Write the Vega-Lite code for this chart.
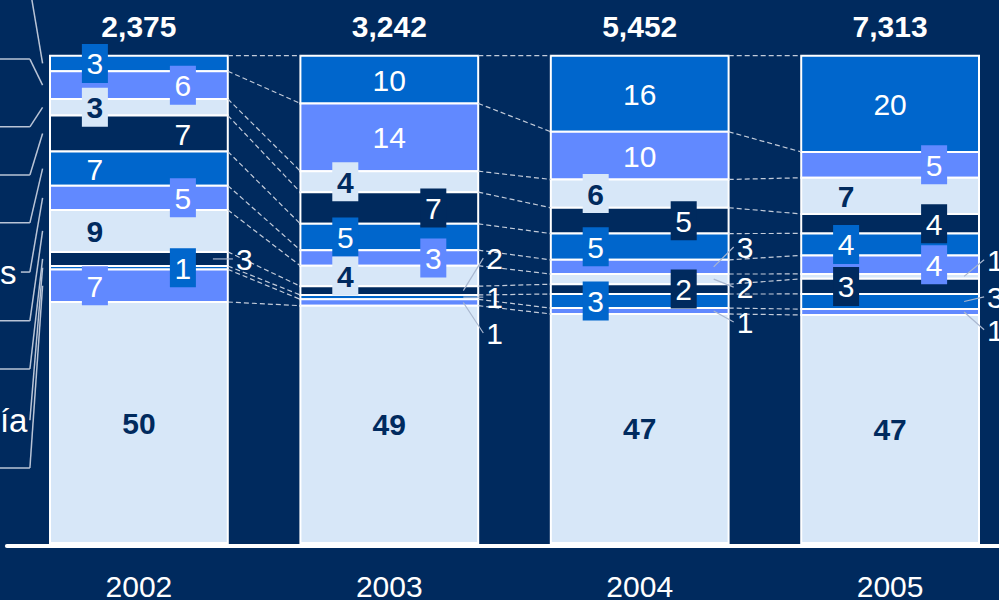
{
  "$schema": "https://vega.github.io/schema/vega-lite/v6.json",
  "width": 999,
  "height": 600,
  "autosize": "none",
  "padding": 0,
  "background": "#002A5E",
  "config": {"view": {"stroke": null}, "text": {"font": "Liberation Sans"}},
  "data": {"values": [
    {"year": "2002", "seg": 1, "pct": 3.2, "label": "3", "pos": "L", "legY": 1.139},
    {"year": "2002", "seg": 2, "pct": 5.7, "label": "6", "pos": "R", "legY": 0.993},
    {"year": "2002", "seg": 3, "pct": 3.4, "label": "3", "pos": "L", "legY": 0.854},
    {"year": "2002", "seg": 4, "pct": 7.4, "label": "7", "pos": "R", "legY": 0.755},
    {"year": "2002", "seg": 5, "pct": 7.0, "label": "7", "pos": "L", "legY": 0.657},
    {"year": "2002", "seg": 6, "pct": 5.0, "label": "5", "pos": "R", "legY": 0.556, "legName": "s"},
    {"year": "2002", "seg": 7, "pct": 8.6, "label": "9", "pos": "L", "legY": 0.456},
    {"year": "2002", "seg": 8, "pct": 2.9, "label": "3", "pos": "O", "off": 0, "legY": 0.357},
    {"year": "2002", "seg": 9, "pct": 0.7, "label": "1", "pos": "R", "legY": 0.252, "legName": "ía"},
    {"year": "2002", "seg": 10, "pct": 6.7, "label": "7", "pos": "L", "legY": 0.154},
    {"year": "2002", "seg": 11, "pct": 49.5, "label": "50", "pos": "C"},
    {"year": "2003", "seg": 1, "pct": 9.8, "label": "10", "pos": "C"},
    {"year": "2003", "seg": 2, "pct": 13.9, "label": "14", "pos": "C"},
    {"year": "2003", "seg": 3, "pct": 4.3, "label": "4", "pos": "L"},
    {"year": "2003", "seg": 4, "pct": 6.5, "label": "7", "pos": "R"},
    {"year": "2003", "seg": 5, "pct": 5.4, "label": "5", "pos": "L"},
    {"year": "2003", "seg": 6, "pct": 3.2, "label": "3", "pos": "R"},
    {"year": "2003", "seg": 7, "pct": 4.2, "label": "4", "pos": "L"},
    {"year": "2003", "seg": 8, "pct": 1.8, "label": "2", "pos": "O", "off": 0.0667},
    {"year": "2003", "seg": 9, "pct": 0.9, "label": "1", "pos": "O", "off": 0},
    {"year": "2003", "seg": 10, "pct": 1.3, "label": "1", "pos": "O", "off": -0.0626},
    {"year": "2003", "seg": 11, "pct": 48.7, "label": "49", "pos": "C"},
    {"year": "2004", "seg": 1, "pct": 15.6, "label": "16", "pos": "C"},
    {"year": "2004", "seg": 2, "pct": 9.8, "label": "10", "pos": "C"},
    {"year": "2004", "seg": 3, "pct": 5.8, "label": "6", "pos": "L"},
    {"year": "2004", "seg": 4, "pct": 5.3, "label": "5", "pos": "R"},
    {"year": "2004", "seg": 5, "pct": 5.4, "label": "5", "pos": "L"},
    {"year": "2004", "seg": 6, "pct": 2.9, "label": "3", "pos": "O", "off": 0.041},
    {"year": "2004", "seg": 7, "pct": 2.1, "label": "2", "pos": "O", "off": -0.0164},
    {"year": "2004", "seg": 8, "pct": 2.0, "label": "2", "pos": "R"},
    {"year": "2004", "seg": 9, "pct": 2.9, "label": "3", "pos": "L"},
    {"year": "2004", "seg": 10, "pct": 1.2, "label": "1", "pos": "O", "off": -0.0226},
    {"year": "2004", "seg": 11, "pct": 47.0, "label": "47", "pos": "C"},
    {"year": "2005", "seg": 1, "pct": 19.7, "label": "20", "pos": "C"},
    {"year": "2005", "seg": 2, "pct": 5.3, "label": "5", "pos": "R"},
    {"year": "2005", "seg": 3, "pct": 7.4, "label": "7", "pos": "L"},
    {"year": "2005", "seg": 4, "pct": 4.0, "label": "4", "pos": "R"},
    {"year": "2005", "seg": 5, "pct": 4.5, "label": "4", "pos": "L"},
    {"year": "2005", "seg": 6, "pct": 3.8, "label": "4", "pos": "R"},
    {"year": "2005", "seg": 7, "pct": 1.0, "label": "1", "pos": "O", "off": 0.034},
    {"year": "2005", "seg": 8, "pct": 3.1, "label": "3", "pos": "L"},
    {"year": "2005", "seg": 9, "pct": 3.1, "label": "3", "pos": "O", "off": 0.0096},
    {"year": "2005", "seg": 10, "pct": 1.2, "label": "1", "pos": "O", "off": -0.0363},
    {"year": "2005", "seg": 11, "pct": 46.7, "label": "47", "pos": "C"}
  ]},
  "transform": [
    {"stack": "pct", "groupby": ["year"], "sort": [{"field": "seg", "order": "descending"}], "offset": "normalize", "as": ["y0", "y1"]},
    {"calculate": "(datum.y0 + datum.y1) / 2", "as": "mid"},
    {"calculate": "datum.mid + (datum.off || 0)", "as": "ly"}
  ],
  "layer": [
    {
      "mark": {"type": "bar", "stroke": "white", "strokeWidth": 2},
      "encoding": {
        "x": {"field": "year", "type": "ordinal", "scale": {"range": [50, 979], "paddingInner": 0.29, "paddingOuter": 0},
              "axis": {"title": null, "domain": false, "ticks": false, "labelAngle": 0, "labelFontSize": 30, "labelColor": "white", "labelFont": "Liberation Sans", "offset": -30, "labelPadding": 2}},
        "y": {"field": "y1", "type": "quantitative", "scale": {"domain": [-0.117, 1.1143], "nice": false, "zero": false}, "axis": null},
        "y2": {"field": "y0"},
        "color": {"field": "seg", "type": "nominal", "legend": null,
                  "scale": {"domain": [1,2,3,4,5,6,7,8,9,10,11],
                            "range": ["#0066CC","#6189FF","#D7E7F8","#002A5E","#0066CC","#6189FF","#D7E7F8","#002A5E","#0066CC","#6189FF","#D7E7F8"]}}
      }
    },
    {
      "transform": [
        {"window": [{"op": "lead", "field": "y1", "as": "ny"}, {"op": "lead", "field": "year", "as": "nyear"}], "groupby": ["seg"], "sort": [{"field": "year", "order": "ascending"}]},
        {"filter": "datum.nyear != null"}
      ],
      "mark": {"type": "rule", "color": "#C3CCDA", "strokeWidth": 1.2, "strokeDash": [5, 3], "xOffset": 89, "x2Offset": -89},
      "encoding": {
        "x": {"field": "year", "type": "ordinal"},
        "x2": {"field": "nyear"},
        "y": {"field": "y1", "type": "quantitative"},
        "y2": {"field": "ny"}
      }
    },
    {
      "transform": [{"filter": "datum.year == '2002' && isValid(datum.legY)"}],
      "mark": {"type": "rule", "color": "#B9C4D6", "strokeWidth": 1.5, "xOffset": -109, "x2Offset": -96.3},
      "encoding": {
        "x": {"field": "year", "type": "ordinal"},
        "x2": {"field": "year"},
        "y": {"field": "legY", "type": "quantitative"},
        "y2": {"field": "mid"}
      }
    },
    {
      "transform": [{"filter": "datum.year == '2002' && isValid(datum.legY) && !isValid(datum.legName)"}],
      "mark": {"type": "rule", "color": "#B9C4D6", "strokeWidth": 1.5, "xOffset": -200, "x2Offset": -109},
      "encoding": {
        "x": {"field": "year", "type": "ordinal"},
        "x2": {"field": "year"},
        "y": {"field": "legY", "type": "quantitative"}
      }
    },
    {
      "transform": [{"filter": "datum.year == '2002' && datum.legName == 's'"}],
      "mark": {"type": "rule", "color": "#B9C4D6", "strokeWidth": 1.5, "xOffset": -118, "x2Offset": -109},
      "encoding": {
        "x": {"field": "year", "type": "ordinal"},
        "x2": {"field": "year"},
        "y": {"field": "legY", "type": "quantitative"}
      }
    },
    {
      "transform": [{"filter": "datum.year == '2002' && isValid(datum.legName)"}],
      "mark": {"type": "text", "color": "white", "fontSize": 33, "align": "left", "baseline": "middle", "xOffset": -139, "dy": 2},
      "encoding": {
        "x": {"field": "year", "type": "ordinal"},
        "y": {"field": "legY", "type": "quantitative"},
        "text": {"field": "legName"}
      }
    },
    {
      "transform": [{"filter": "datum.pos == 'O'"}],
      "mark": {"type": "rule", "color": "#A9B7CF", "strokeWidth": 1.2, "xOffset": 74, "x2Offset": 94},
      "encoding": {
        "x": {"field": "year", "type": "ordinal"},
        "x2": {"field": "year"},
        "y": {"field": "mid", "type": "quantitative"},
        "y2": {"field": "ly"}
      }
    },
    {
      "transform": [{"filter": "datum.pos == 'L' && datum.pct < 7"}],
      "mark": {"type": "point", "filled": true, "opacity": 1, "shape": "M-0.667,-1H0.667V1H-0.667Z", "size": 1521, "xOffset": -44},
      "encoding": {
        "x": {"field": "year", "type": "ordinal"},
        "y": {"field": "mid", "type": "quantitative"},
        "color": {"field": "seg", "type": "nominal"}
      }
    },
    {
      "transform": [{"filter": "datum.pos == 'R' && datum.pct < 7"}],
      "mark": {"type": "point", "filled": true, "opacity": 1, "shape": "M-0.667,-1H0.667V1H-0.667Z", "size": 1521, "xOffset": 44},
      "encoding": {
        "x": {"field": "year", "type": "ordinal"},
        "y": {"field": "mid", "type": "quantitative"},
        "color": {"field": "seg", "type": "nominal"}
      }
    },
    {
      "transform": [{"filter": "datum.seg % 4 == 3 && datum.pos == 'L'"}],
      "mark": {"type": "text", "color": "#002A5E", "fontWeight": "bold", "fontSize": 30, "baseline": "middle", "xOffset": -44, "dy": 2},
      "encoding": {"x": {"field": "year", "type": "ordinal"}, "y": {"field": "mid", "type": "quantitative"}, "text": {"field": "label"}}
    },
    {
      "transform": [{"filter": "datum.seg % 4 == 3 && datum.pos == 'C'"}],
      "mark": {"type": "text", "color": "#002A5E", "fontWeight": "bold", "fontSize": 30, "baseline": "middle", "dy": 2},
      "encoding": {"x": {"field": "year", "type": "ordinal"}, "y": {"field": "mid", "type": "quantitative"}, "text": {"field": "label"}}
    },
    {
      "transform": [{"filter": "datum.seg % 4 != 3 && datum.pos == 'L'"}],
      "mark": {"type": "text", "color": "white", "fontSize": 30, "baseline": "middle", "xOffset": -44, "dy": 2},
      "encoding": {"x": {"field": "year", "type": "ordinal"}, "y": {"field": "mid", "type": "quantitative"}, "text": {"field": "label"}}
    },
    {
      "transform": [{"filter": "datum.seg % 4 != 3 && datum.pos == 'R'"}],
      "mark": {"type": "text", "color": "white", "fontSize": 30, "baseline": "middle", "xOffset": 44, "dy": 2},
      "encoding": {"x": {"field": "year", "type": "ordinal"}, "y": {"field": "mid", "type": "quantitative"}, "text": {"field": "label"}}
    },
    {
      "transform": [{"filter": "datum.seg % 4 != 3 && datum.pos == 'C'"}],
      "mark": {"type": "text", "color": "white", "fontSize": 30, "baseline": "middle", "dy": 2},
      "encoding": {"x": {"field": "year", "type": "ordinal"}, "y": {"field": "mid", "type": "quantitative"}, "text": {"field": "label"}}
    },
    {
      "transform": [{"filter": "datum.pos == 'O'"}],
      "mark": {"type": "text", "color": "white", "fontSize": 30, "baseline": "middle", "align": "left", "xOffset": 97, "dy": 2},
      "encoding": {"x": {"field": "year", "type": "ordinal"}, "y": {"field": "ly", "type": "quantitative"}, "text": {"field": "label"}}
    },
    {
      "data": {"values": [
        {"year": "2002", "total": "2,375"},
        {"year": "2003", "total": "3,242"},
        {"year": "2004", "total": "5,452"},
        {"year": "2005", "total": "7,313"}
      ]},
      "mark": {"type": "text", "color": "white", "fontWeight": "bold", "fontSize": 30, "baseline": "middle", "dy": -28},
      "encoding": {"x": {"field": "year", "type": "ordinal"}, "y": {"datum": 1, "type": "quantitative"}, "text": {"field": "total"}}
    },
    {
      "data": {"values": [{"year": "2002"}]},
      "mark": {"type": "rule", "color": "white", "strokeWidth": 4, "strokeCap": "round", "xOffset": -132, "x2Offset": 900, "yOffset": 3, "y2Offset": 3},
      "encoding": {"x": {"field": "year", "type": "ordinal"}, "x2": {"field": "year"}, "y": {"datum": 0, "type": "quantitative"}}
    }
  ]
}
